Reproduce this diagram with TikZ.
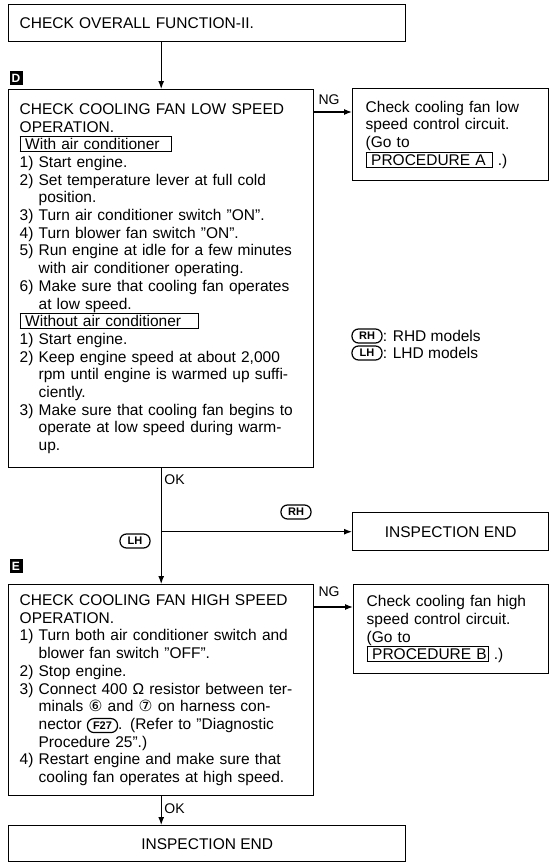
\documentclass[tikz,border=0pt]{standalone}
\usepackage{fontspec}
\setmainfont{Liberation Sans}
\newfontfamily\symfont{DejaVu Sans}
\usetikzlibrary{positioning, calc, arrows.meta}

\setlength{\fboxsep}{1.5pt}
\setlength{\fboxrule}{1pt}
\newcommand{\condbox}[2]{\fbox{\makebox[#1][l]{\hspace{3pt}#2}}}
\newcommand{\harn}[1]{\tikz[baseline=(h.base)]\node[hand] (h) {#1};}

\tikzset{
    panel/.style={draw, line width=1.4pt, anchor=north west, align=left, inner xsep=11pt, inner ysep=0pt},
    endbox/.style={draw, line width=1.4pt, anchor=north west, align=center, inner sep=0pt},
    hand/.style={rectangle, rounded corners=6.5pt, draw, line width=1.2pt, inner xsep=3pt, inner ysep=1pt,
        minimum width=30pt, minimum height=14pt, font=\bfseries\fontsize{11}{11}\selectfont},
    stepmark/.style={fill=black, text=white, inner sep=0pt, minimum width=13pt, minimum height=14pt,
        font=\bfseries\fontsize{12}{12}\selectfont},
    arr/.style={line width=1.2pt, -{Latex[length=8pt,width=6pt]}},
    flag/.style={anchor=west, inner sep=1pt, font=\fontsize{14}{14}\selectfont}
}

\begin{document}
\begin{tikzpicture}[x=1pt, y=-1pt, font=\fontsize{15.5}{17.7}\selectfont]
    \useasboundingbox (0,0) rectangle (556,867);

    % Top box
    \node[panel, minimum width=397pt, minimum height=37pt, text width=375pt] (overall) at (8,4)
        {CHECK OVERALL FUNCTION-II.};

    % Step D
    \node[stepmark] (markD) at (16,78) {D};
    \node[panel, text width=283pt, minimum height=378pt] (checkD) at (8,89) {%
        CHECK COOLING FAN LOW SPEED\\
        OPERATION.\\
        \condbox{147pt}{With air conditioner}\\
        1) Start engine.\\
        2) Set temperature lever at full cold\\
        \phantom{2) }position.\\
        3) Turn air conditioner switch ''ON''.\\
        4) Turn blower fan switch ''ON''.\\
        5) Run engine at idle for a few minutes\\
        \phantom{5) }with air conditioner operating.\\
        6) Make sure that cooling fan operates\\
        \phantom{6) }at low speed.\\
        \condbox{174pt}{Without air conditioner}\\
        1) Start engine.\\
        2) Keep engine speed at about 2,000\\
        \phantom{2) }rpm until engine is warmed up suffi-\\
        \phantom{2) }ciently.\\
        3) Make sure that cooling fan begins to\\
        \phantom{3) }operate at low speed during warm-\\
        \phantom{3) }up.};

    % NG result of step D
    \node[panel, inner xsep=13pt, text width=170pt, minimum height=92pt] (checkA) at (352,88) {%
        Check cooling fan low\\
        speed control circuit.\\
        (Go to\\
        \condbox{122pt}{PROCEDURE A} .)};
    \coordinate (ngD) at ($(checkD.north east)+(0,23)$);
    \draw[arr] (ngD) -- (ngD -| checkA.west);
    \node[flag] (ngDlbl) at ($(checkD.north east)+(3,11)$) {NG};

    % Legend
    \node[hand] (rhKey) at (367,336) {RH};
    \node[anchor=west, inner sep=0pt] (rhText) at (rhKey.east) {: RHD models};
    \node[hand] (lhKey) at (367,353) {LH};
    \node[anchor=west, inner sep=0pt] (lhText) at (lhKey.east) {: LHD models};

    % OK of step D, split by model
    \node[endbox, minimum width=196pt, minimum height=38pt] (endRH) at (352,512) {INSPECTION END};
    \node[stepmark] (markE) at (16,566) {E};
    \node[panel, text width=283pt, minimum height=211pt] (checkE) at (8,584) {%
        CHECK COOLING FAN HIGH SPEED\\
        OPERATION.\\
        1) Turn both air conditioner switch and\\
        \phantom{1) }blower fan switch ''OFF''.\\
        2) Stop engine.\\
        3) Connect 400 Ω resistor between ter-\\
        \phantom{3) }minals {\symfont ⑥} and {\symfont ⑦} on harness con-\\
        \phantom{3) }nector \harn{F27}. (Refer to ''Diagnostic\\
        \phantom{3) }Procedure 25''.)\\
        4) Restart engine and make sure that\\
        \phantom{4) }cooling fan operates at high speed.};
    \draw[arr] (checkD.south) -- (checkE.north);
    \node[flag] (okD) at ($(checkD.south)+(2,11)$) {OK};
    \coordinate (fork) at (checkD.south |- endRH.west);
    \draw[arr] (fork) -- (endRH.west);
    \node[hand] (rhTag) at (296,512) {RH};
    \node[hand] (lhTag) at (135,541) {LH};

    % NG result of step E
    \node[panel, inner xsep=13pt, text width=169pt, minimum height=89pt] (checkB) at (353,584) {%
        Check cooling fan high\\
        speed control circuit.\\
        (Go to\\
        \condbox{117pt}{PROCEDURE B} .)};
    \coordinate (ngE) at ($(checkE.north east)+(0,23)$);
    \draw[arr] (ngE) -- (ngE -| checkB.west);
    \node[flag] (ngElbl) at ($(checkE.north east)+(3,8)$) {NG};

    % End of step E
    \node[endbox, minimum width=397pt, minimum height=36pt] (endE) at (8,825) {INSPECTION END};
    \draw[arr] (checkE.south) -- (checkE.south |- endE.north);
    \node[flag] (okE) at ($(checkE.south)+(2,12)$) {OK};

    % Arrow from the top box
    \draw[arr] (checkD.north |- overall.south) -- (checkD.north);
\end{tikzpicture}
\end{document}
